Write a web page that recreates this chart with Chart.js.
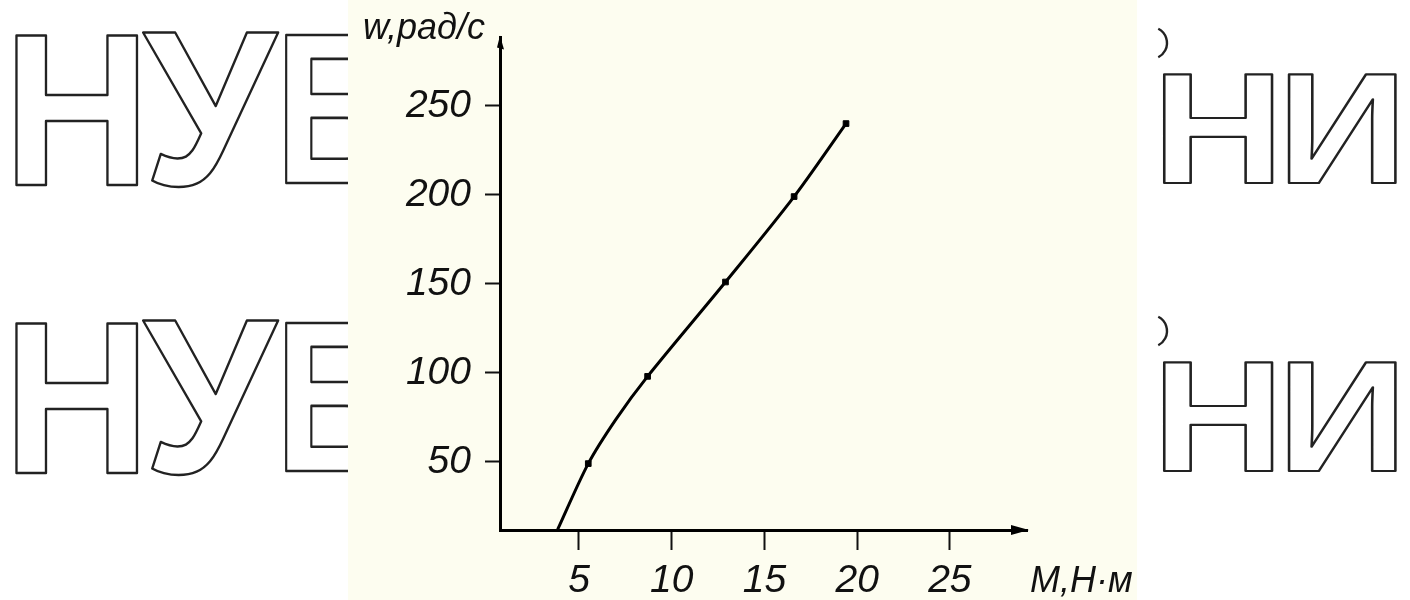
<!DOCTYPE html>
<html>
<head>
<meta charset="utf-8">
<title>w(M)</title>
<script src="https://cdn.jsdelivr.net/npm/chart.js@4.4.1/dist/chart.umd.min.js"></script>
<style>
  html, body { margin: 0; padding: 0; background: #fff; }
  canvas { display: block; }
</style>
</head>
<body>
<canvas id="myChart" width="1410" height="600"></canvas>
<script>
// measured points (M, N·m  ->  w, rad/s)
const pointM = [5.5, 8.7, 12.9, 16.6, 19.4];
const pointW = [49, 98, 151, 199, 240];

// points
const curveM = [3.85, 5.5, 7.0, 8.7, 12.9, 16.6, 19.4];
const curveW = [12, 49, 74, 98, 151, 199, 240];

// tick labels
const xTicks = [5, 10, 15, 20, 25];
const yTicks = [50, 100, 150, 200, 250];

// axis titles
const xTitle = 'М,Н·м';
const yTitle = 'w,рад/с';

// axis ranges (axes of the scan do not start at zero)
const X_MIN = 0.74, X_MAX = 29.16;
const Y_MIN = 11.7, Y_MAX = 288.4;

const FONT = '"Liberation Sans", Arial, sans-serif';
const INK = '#111';

function toXY(xs, ys) {
  return xs.map((x, i) => ({ x: x, y: ys[i] }));
}

// outlined letter fitted into a box (watermark behind the scan)
function outlineLetter(ctx, ch, x0, y0, x1, y1) {
  ctx.save();
  ctx.font = 'bold 100px ' + FONT;
  const m = ctx.measureText(ch);
  const w = m.actualBoundingBoxLeft + m.actualBoundingBoxRight;
  const h = m.actualBoundingBoxAscent + m.actualBoundingBoxDescent;
  const sx = (x1 - x0) / w;
  const sy = (y1 - y0) / h;
  ctx.translate(x0 + m.actualBoundingBoxLeft * sx, y0 + m.actualBoundingBoxAscent * sy);
  ctx.scale(sx, sy);
  ctx.lineJoin = 'round';
  ctx.lineWidth = 2.4 / ((sx + sy) / 2);
  ctx.strokeStyle = '#222';
  ctx.strokeText(ch, 0, 0);
  ctx.restore();
}

const backgroundPlugin = {
  id: 'scanBackground',
  beforeDraw: (chart) => {
    const ctx = chart.ctx;
    ctx.save();
    ctx.fillStyle = '#fff';
    ctx.fillRect(0, 0, chart.width, chart.height);

    // two rows of the watermark, 288 px apart
    [0, 288].forEach(dy => {
      outlineLetter(ctx, 'Н', 15, 33 + dy, 138, 185 + dy);
      outlineLetter(ctx, 'У', 143, 33 + dy, 280, 187 + dy);
      outlineLetter(ctx, 'Б', 285, 35 + dy, 395, 183 + dy);
      outlineLetter(ctx, 'Н', 1163, 72 + dy, 1273, 183 + dy);
      outlineLetter(ctx, 'И', 1288, 72 + dy, 1397, 183 + dy);
      ctx.beginPath();
      ctx.strokeStyle = '#222';
      ctx.lineWidth = 2.4;
      ctx.arc(1151, 43 + dy, 16, -1.1, 1.1);
      ctx.stroke();
    });

    // the scanned page
    ctx.fillStyle = '#fdfdf0';
    ctx.fillRect(348, 0, 789, chart.height);
    ctx.restore();
  }
};

const axisPlugin = {
  id: 'axisArrows',
  afterDraw: (chart) => {
    const ctx = chart.ctx;
    const a = chart.chartArea;
    ctx.save();
    ctx.fillStyle = '#000';
    // arrow on the M axis
    ctx.beginPath();
    ctx.moveTo(a.right + 2, a.bottom);
    ctx.lineTo(a.right - 16, a.bottom - 5);
    ctx.lineTo(a.right - 16, a.bottom + 5);
    ctx.closePath();
    ctx.fill();
    // small arrow on the w axis
    ctx.beginPath();
    ctx.moveTo(a.left, a.top - 2);
    ctx.lineTo(a.left - 3, a.top + 10);
    ctx.lineTo(a.left + 4, a.top + 12);
    ctx.closePath();
    ctx.fill();

    // axis titles
    ctx.fillStyle = INK;
    ctx.textBaseline = 'alphabetic';
    ctx.textAlign = 'left';
    ctx.font = 'italic 36px ' + FONT;
    ctx.fillText(yTitle, 363, 39);
    ctx.fillText(xTitle, 1030, 592);
    ctx.restore();
  }
};

const config = {
  type: 'scatter',
  data: {
    datasets: [
      {
        label: 'curve',
        type: 'line',
        data: toXY(curveM, curveW),
        borderColor: '#000',
        borderWidth: 3,
        pointRadius: 0,
        tension: 0.3,
        fill: false,
        order: 2
      },
      {
        label: 'points',
        data: toXY(pointM, pointW),
        backgroundColor: '#000',
        borderColor: '#000',
        pointStyle: 'rect',
        pointRadius: 4,
        order: 1
      }
    ]
  },
  options: {
    responsive: false,
    animation: false,
    devicePixelRatio: 1,
    layout: { padding: { left: 0, top: 37, right: 383, bottom: 0 } },
    plugins: {
      legend: { display: false },
      tooltip: { enabled: false },
      title: { display: false }
    },
    scales: {
      x: {
        type: 'linear',
        min: X_MIN,
        max: X_MAX,
        afterBuildTicks: (scale) => { scale.ticks = xTicks.map(v => ({ value: v })); },
        afterFit: (scale) => { scale.height = 70; },
        grid: { drawOnChartArea: false, drawTicks: true, tickLength: 20, tickWidth: 2, tickColor: INK },
        border: { display: true, color: '#000', width: 3 },
        ticks: {
          color: INK,
          autoSkip: false,
          maxRotation: 0,
          padding: 8,
          font: { family: FONT, size: 39, style: 'italic' }
        }
      },
      y: {
        type: 'linear',
        min: Y_MIN,
        max: Y_MAX,
        afterBuildTicks: (scale) => { scale.ticks = yTicks.map(v => ({ value: v })); },
        afterFit: (scale) => { scale.width = 500; },
        grid: { drawOnChartArea: false, drawTicks: true, tickLength: 15, tickWidth: 2, tickColor: INK },
        border: { display: true, color: '#000', width: 3 },
        ticks: {
          color: INK,
          autoSkip: false,
          padding: 14,
          font: { family: FONT, size: 39, style: 'italic' }
        }
      }
    }
  },
  plugins: [backgroundPlugin, axisPlugin]
};

let chart;

function createChart() {
  const ctx = document.getElementById('myChart').getContext('2d');
  if (chart) {
    chart.destroy();
  }
  chart = new Chart(ctx, config);
}

window.onload = createChart;
</script>
</body>
</html>
